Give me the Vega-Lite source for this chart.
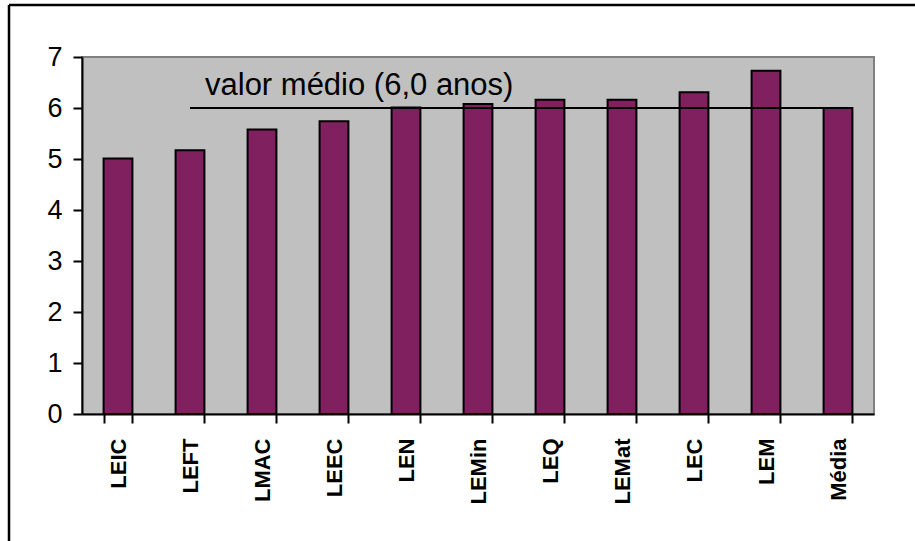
{
  "$schema": "https://vega.github.io/schema/vega-lite/v6.json",
  "autosize": "none",
  "width": 792,
  "height": 357,
  "padding": {"left": 82, "top": 57, "right": 41, "bottom": 127},
  "background": "white",
  "config": {
    "view": {"fill": "#C0C0C0", "stroke": "#808080", "strokeWidth": 2},
    "font": "Liberation Sans"
  },
  "datasets": {
    "bars": [
      {"curso": "LEIC", "anos": 5.01},
      {"curso": "LEFT", "anos": 5.17},
      {"curso": "LMAC", "anos": 5.58},
      {"curso": "LEEC", "anos": 5.74},
      {"curso": "LEN", "anos": 6.01},
      {"curso": "LEMin", "anos": 6.08},
      {"curso": "LEQ", "anos": 6.16},
      {"curso": "LEMat", "anos": 6.16},
      {"curso": "LEC", "anos": 6.31},
      {"curso": "LEM", "anos": 6.73},
      {"curso": "Média", "anos": 6.0}
    ],
    "media": [{"de": "LEFT", "ate": "Média", "valor": 6, "rotulo": "valor médio (6,0 anos)"}],
    "frame": [
      {"fx0": 0, "fx1": 1, "fy0": 0, "fy1": 0},
      {"fx0": 0, "fx1": 0, "fy0": 0, "fy1": 1}
    ]
  },
  "layer": [
    {
      "layer": [
        {
          "data": {"name": "bars"},
          "mark": {"type": "bar", "fill": "#80205F", "stroke": "black", "strokeWidth": 2},
          "encoding": {
            "x": {
              "field": "curso", "type": "nominal",
              "scale": {"domain": ["LEIC", "LEFT", "LMAC", "LEEC", "LEN", "LEMin", "LEQ", "LEMat", "LEC", "LEM", "Média"], "paddingInner": 0.6, "paddingOuter": 0.3},
              "axis": {
                "title": null, "domainColor": "black", "domainWidth": 2,
                "tickColor": "black", "tickWidth": 2, "tickSize": 9, "tickBand": "extent",
                "labelAngle": 270, "labelFontSize": 22, "labelFontWeight": "bold",
                "labelColor": "black", "labelPadding": 15, "labelFont": "Liberation Sans"
              }
            },
            "y": {
              "field": "anos", "type": "quantitative",
              "scale": {"domain": [0, 7], "nice": false},
              "axis": {
                "title": null, "values": [0, 1, 2, 3, 4, 5, 6, 7], "grid": false,
                "domainColor": "black", "domainWidth": 2,
                "tickColor": "black", "tickWidth": 2, "tickSize": 9,
                "labelFontSize": 27, "labelColor": "black", "labelPadding": 11, "labelFont": "Liberation Sans"
              }
            }
          }
        },
        {
          "data": {"name": "media"},
          "mark": {"type": "rule", "stroke": "black", "strokeWidth": 2},
          "encoding": {
            "x": {"field": "de", "type": "nominal"},
            "x2": {"field": "ate"},
            "y": {"field": "valor", "type": "quantitative"}
          }
        },
        {
          "data": {"name": "media"},
          "mark": {"type": "text", "align": "left", "baseline": "alphabetic", "dx": 15, "dy": -13, "fontSize": 31, "font": "Liberation Sans", "color": "black"},
          "encoding": {
            "x": {"field": "de", "type": "nominal"},
            "y": {"field": "valor", "type": "quantitative"},
            "text": {"field": "rotulo"}
          }
        }
      ]
    },
    {
      "data": {"name": "frame"},
      "mark": {"type": "rule", "stroke": "black", "strokeWidth": 2.5},
      "encoding": {
        "x": {"field": "fx0", "type": "quantitative", "scale": {"domain": [0, 1], "range": [-73, 2000]}, "axis": null},
        "x2": {"field": "fx1"},
        "y": {"field": "fy0", "type": "quantitative", "scale": {"domain": [0, 1], "range": [-52, 2000]}, "axis": null},
        "y2": {"field": "fy1"}
      }
    }
  ],
  "resolve": {"scale": {"x": "independent", "y": "independent"}}
}
